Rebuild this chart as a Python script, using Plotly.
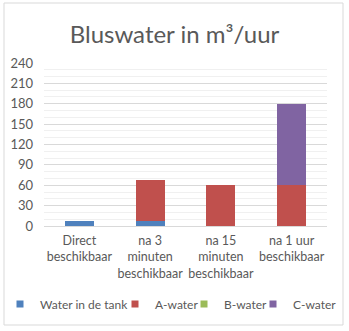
import plotly.graph_objects as go

categories = ["Direct<br>beschikbaar", "na 3<br>minuten<br>beschikbaar", "na 15<br>minuten<br>beschikbaar", "na 1 uur<br>beschikbaar"]
series_names = ["Water in de tank", "A-water", "B-water", "C-water"]
tank = [7.5, 7.5, 0, 0]
a_water = [0, 60, 60, 60]
b_water = [0, 0, 0, 0]
c_water = [0, 0, 0, 120]
colors = ["#4F81BD", "#C0504D", "#9BBB59", "#8064A2"]
y_ticks = [0, 30, 60, 90, 120, 150, 180, 210, 240]

FONT = "Lato"
GRAY = "#595959"
W, H = 349, 331
legend_px = [0, 115, 184, 253]   # left edge of each legend entry (px)
legend_ids = ["legend", "legend2", "legend3", "legend4"]

fig = go.Figure()
for name, vals, col in zip(series_names, [tank, a_water, b_water, c_water], colors):
    fig.add_trace(go.Bar(x=categories, y=vals, name=name, showlegend=False,
                         marker=dict(color=col, line=dict(width=0))))
# legend entries with small square keys, one legend box per entry so they sit in one row
for name, col, lid in zip(series_names, colors, legend_ids):
    fig.add_trace(go.Scatter(x=[None], y=[None], mode="markers", name=name, legend=lid,
                             marker=dict(symbol="square", size=7, color=col)))

L, R, T, B = 44, 22, 63, 105
PW, PH = W - L - R, H - T - B

legend_layouts = {}
for lid, px in zip(legend_ids, legend_px):
    legend_layouts[lid] = dict(orientation="h", x=px / W, xref="container", xanchor="left",
                               y=1 - 304 / H, yref="container", yanchor="middle",
                               font=dict(family=FONT, size=12, color=GRAY), itemwidth=30,
                               bgcolor="rgba(0,0,0,0)", borderwidth=0)

fig.update_layout(
    width=W, height=H,
    barmode="stack", bargap=0.59,
    paper_bgcolor="white", plot_bgcolor="white",
    margin=dict(l=L, r=R, t=T, b=B, autoexpand=False),
    font=dict(family=FONT, size=13, color=GRAY),
    title=dict(text="Bluswater in m³/uur", x=0.5, xref="container", xanchor="center",
               y=1 - 35 / H, yref="container", yanchor="middle",
               font=dict(family=FONT, size=24, color=GRAY)),
    yaxis=dict(range=[0, 240], tickvals=y_ticks, showgrid=True, gridcolor="#D9D9D9", gridwidth=1,
               zeroline=False, showline=False, ticks="", ticklabelstandoff=10, automargin=False,
               minor=dict(dtick=10, showgrid=True, gridcolor="#F0F0F0", gridwidth=1),
               tickfont=dict(family=FONT, size=13, color=GRAY), fixedrange=True),
    xaxis=dict(showline=True, linecolor="#D9D9D9", ticks="", automargin=False, ticklabelstandoff=3,
               tickfont=dict(family=FONT, size=12.5, color=GRAY), fixedrange=True),
    shapes=[dict(type="rect", xref="paper", yref="paper",
                 x0=(4 - L) / PW, x1=(343 - L) / PW,
                 y0=(T + PH - 325) / PH, y1=(T + PH - 3) / PH,
                 line=dict(color="#D9D9D9", width=1), layer="below")],
    **legend_layouts,
)
fig.write_html("out.html")
